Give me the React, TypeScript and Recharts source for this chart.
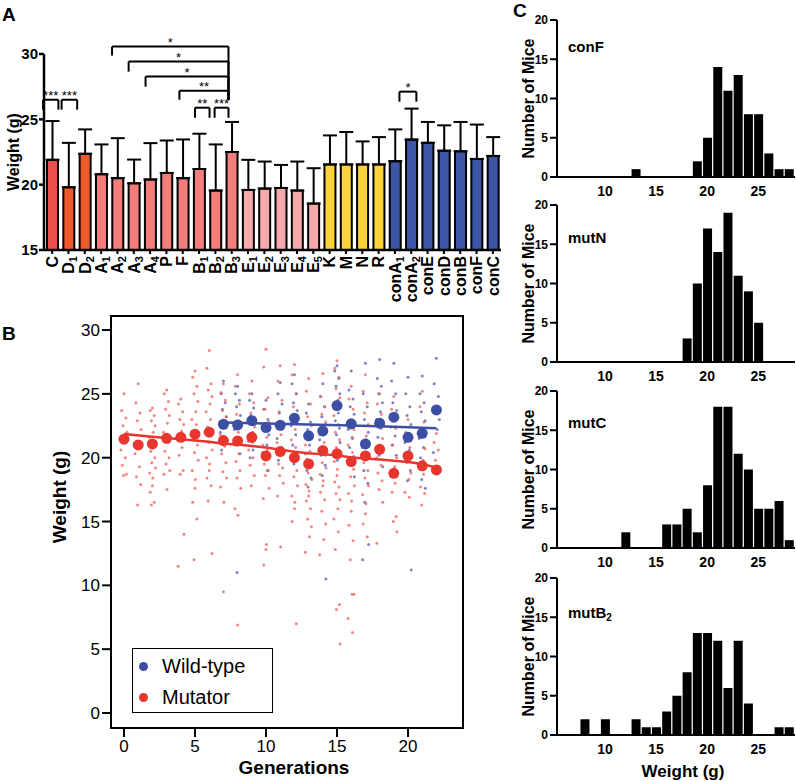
import React from 'react';
import {
  BarChart, Bar, XAxis, YAxis, Cell, ErrorBar, ReferenceLine, ReferenceDot,
  ScatterChart, Scatter, ReferenceArea, Legend,
} from 'recharts';

const FONT = '"Liberation Sans", Arial, Helvetica, sans-serif';

// ---------------- Panel A data ----------------
const strains = ['C', 'D1', 'D2', 'A1', 'A2', 'A3', 'A4', 'P', 'F', 'B1', 'B2', 'B3', 'E1', 'E2', 'E3', 'E4', 'E5', 'K', 'M', 'N', 'R', 'conA1', 'conA2', 'conE', 'conD', 'conB', 'conF', 'conC'];
const meanWeights = [21.9, 19.8, 22.36, 20.8, 20.5, 20.1, 20.4, 20.9, 20.5, 21.2, 19.55, 22.5, 19.6, 19.7, 19.75, 19.55, 18.55, 21.55, 21.55, 21.55, 21.55, 21.8, 23.45, 23.2, 22.6, 22.55, 21.97, 22.2];
const upperWeights = [24.87, 23.2, 24.23, 23.08, 23.56, 21.92, 23.18, 23.38, 23.46, 23.9, 23.08, 24.8, 21.9, 21.77, 21.51, 21.77, 21.26, 23.77, 24.03, 23.31, 23.64, 24.23, 25.82, 24.8, 24.54, 24.8, 24.6, 23.64];
const strainGroups = ['C', 'D', 'D', 'A', 'A', 'A', 'A', 'A', 'A', 'A', 'A', 'A', 'E', 'E', 'E', 'E', 'E', 'Y', 'Y', 'Y', 'Y', 'W', 'W', 'W', 'W', 'W', 'W', 'W'];
const groupColors: Record<string, string> = {
  C: '#ec4f4c', D: '#ee5a2c', A: '#f27d7b', E: '#f6a9ab', Y: '#fdd339', W: '#3d55a5',
};
// significance brackets (x in category index units, y in grams)
const sigBrackets = [
  { x1: -0.06, x2: 0.85, y: 26.5, l1: 25.74, l2: 25.74, stars: '***' },
  { x1: 1.04, x2: 1.96, y: 26.5, l1: 25.74, l2: 25.74, stars: '***' },
  { x1: 4.02, x2: 10.9, y: 30.57, l1: 29.88, l2: 26.5, stars: '*' },
  { x1: 5.0, x2: 10.9, y: 29.42, l1: 28.65, l2: 26.5, stars: '*' },
  { x1: 6.0, x2: 10.9, y: 28.27, l1: 27.5, l2: 26.5, stars: '*' },
  { x1: 8.0, x2: 10.9, y: 27.19, l1: 26.5, l2: 26.5, stars: '**' },
  { x1: 8.92, x2: 9.78, y: 25.89, l1: 25.12, l2: 25.12, stars: '**' },
  { x1: 10.08, x2: 10.9, y: 25.89, l1: 25.12, l2: 25.12, stars: '***' },
  { x1: 21.0, x2: 22.0, y: 27.12, l1: 26.35, l2: 26.35, stars: '*' },
];

// ---------------- Panel B data ----------------
const mutatorGenerations = [0, 1, 2, 3, 4, 5, 6, 7, 8, 9, 10, 11, 12, 13, 14, 15, 16, 17, 18, 19, 20, 21, 22];
const mutatorMeans = [21.45, 21.0, 21.08, 21.52, 21.6, 21.84, 22.0, 21.34, 21.31, 21.6, 20.14, 20.48, 20.0, 19.51, 20.56, 20.3, 19.7, 20.14, 20.66, 18.78, 20.14, 19.36, 19.04];
const wildTypeGenerations = [7, 8, 9, 10, 11, 12, 13, 14, 15, 16, 17, 18, 19, 20, 21, 22];
const wildTypeMeans = [22.62, 22.57, 22.9, 22.36, 22.54, 23.09, 21.71, 22.1, 24.08, 22.65, 21.08, 22.7, 23.17, 21.6, 21.91, 23.74];
const mutatorFitX = [0, 2, 4, 6, 7, 8, 10, 12, 13, 14, 15, 16, 18, 20, 21, 22];
const mutatorFitY = [21.85, 21.65, 21.45, 21.25, 21.1, 21.04, 20.8, 20.47, 20.34, 20.26, 20.2, 20.02, 19.86, 19.66, 19.5, 19.22];
const wildTypeFitX = [7, 10, 13, 16, 19, 22];
const wildTypeFitY = [22.75, 22.68, 22.6, 22.53, 22.42, 22.3];

const mutatorMice: number[][] = [
  [25.0, 23.7, 23.1, 22.5, 22.0, 21.4, 20.6, 20.0, 19.4, 18.7, 18.6],
  [25.8, 24.3, 23.5, 22.9, 22.2, 20.9, 20.3, 19.3, 18.5, 17.9, 16.3],
  [23.9, 23.7, 23.3, 22.9, 22.5, 22.0, 21.6, 20.9, 20.5, 20.0, 19.6, 19.2, 18.8, 18.4, 17.8, 17.3, 16.5, 16.3],
  [25.3, 25.0, 24.4, 23.8, 23.3, 22.7, 22.0, 21.2, 20.5, 20.0, 19.5, 19.0, 18.7, 17.5],
  [24.6, 24.2, 23.6, 23.0, 22.6, 22.1, 21.4, 20.8, 20.2, 19.0, 18.7, 14.0, 11.5],
  [26.8, 26.3, 25.6, 25.0, 24.4, 23.6, 23.0, 22.6, 21.4, 21.0, 20.4, 19.8, 19.0, 18.3, 17.6, 16.5, 15.2, 12.0],
  [28.4, 27.0, 25.8, 25.3, 24.8, 24.2, 23.6, 23.0, 22.4, 21.8, 21.2, 20.6, 20.0, 19.5, 19.0, 18.4, 17.8, 16.6, 12.5],
  [25.8, 25.1, 24.5, 23.7, 23.2, 22.4, 21.8, 20.9, 20.3, 19.6, 18.9, 18.4, 17.7, 16.5, 9.5],
  [26.5, 25.6, 24.2, 23.4, 22.8, 22.0, 21.0, 20.3, 19.7, 19.0, 18.4, 17.6, 16.0, 15.5, 6.9],
  [26.0, 25.0, 24.3, 23.5, 22.4, 21.2, 20.6, 20.0, 19.4, 18.6, 17.8],
  [28.5, 27.1, 24.7, 23.8, 22.8, 21.6, 21.0, 20.6, 19.5, 19.0, 18.6, 17.6, 16.8, 13.2, 12.8, 11.6],
  [27.2, 26.0, 24.5, 23.6, 22.4, 21.8, 21.2, 20.4, 19.5, 19.2, 18.6, 18.0, 17.0, 13.0],
  [27.3, 26.5, 25.0, 24.0, 23.0, 22.2, 21.4, 20.8, 19.8, 19.0, 18.5, 17.8, 17.0, 16.5, 16.0, 15.0, 7.0],
  [26.2, 25.2, 24.2, 23.2, 22.5, 21.6, 21.0, 20.5, 19.9, 19.3, 18.8, 18.3, 17.9, 17.4, 17.0, 16.6, 16.0, 15.2, 14.6, 13.8, 12.6],
  [26.6, 24.8, 24.0, 23.4, 22.8, 22.3, 21.8, 21.2, 20.8, 20.2, 19.6, 19.2, 18.7, 18.2, 17.8, 17.3, 16.7, 15.8, 14.8, 13.6, 12.4],
  [27.6, 27.0, 26.3, 25.4, 24.7, 24.0, 23.3, 22.6, 22.0, 21.4, 20.8, 20.2, 19.7, 19.1, 18.6, 18.1, 17.7, 17.2, 16.7, 16.0, 15.2, 14.2, 12.8, 8.5, 8.1, 5.4],
  [25.6, 24.6, 23.8, 22.9, 22.2, 21.6, 21.0, 20.4, 19.8, 19.1, 18.5, 17.8, 17.2, 16.6, 15.8, 14.7, 13.5, 12.0, 9.3, 9.3, 7.4, 6.3],
  [26.5, 25.2, 24.3, 23.5, 22.6, 21.7, 21.0, 20.4, 19.6, 19.0, 18.4, 17.8, 17.1, 16.4, 15.6, 14.8, 13.8],
  [25.0, 24.2, 23.4, 22.4, 21.5, 20.9, 20.0, 19.4, 18.8, 18.2, 17.5, 16.5, 13.3],
  [24.8, 23.8, 22.3, 21.0, 20.0, 19.3, 18.6, 18.0, 17.3, 15.4, 15.0, 14.2],
  [23.0, 22.0, 20.8, 19.6, 18.8, 18.3, 17.3, 16.9],
  [25.2, 24.0, 22.8, 21.6, 20.7, 19.8, 19.2, 18.7, 17.7, 17.2, 16.3],
  [21.9, 21.2, 20.6, 19.8, 19.3, 18.8],
];
const wildTypeMice: number[][] = [
  [26.0, 25.0, 24.3, 23.8, 23.2, 22.6, 22.0, 21.2, 20.6],
  [25.6, 25.0, 24.5, 24.0, 23.3, 22.9, 22.2, 21.6, 21.0, 20.3, 11.0],
  [25.0, 24.5, 23.9, 23.3, 22.6, 22.0, 21.3, 20.6, 20.0],
  [24.5, 23.8, 23.0, 22.4, 21.8, 21.0, 20.4, 19.0],
  [25.9, 25.0, 24.2, 23.5, 22.8, 22.2, 21.5, 20.8, 19.8],
  [26.5, 25.8, 25.0, 24.3, 23.7, 23.1, 22.5, 21.8, 21.0, 20.3, 19.5],
  [24.2, 23.5, 22.8, 22.2, 21.6, 21.0, 20.3, 19.7, 19.0, 18.4, 17.7],
  [25.8, 24.8, 24.0, 23.2, 22.6, 22.0, 21.4, 20.8, 20.2, 19.4, 18.6, 10.5],
  [27.2, 26.8, 26.2, 25.6, 25.0, 24.5, 24.0, 23.5, 22.9, 22.3, 21.8, 21.2, 20.5, 19.8],
  [26.8, 25.3, 24.6, 24.0, 23.4, 22.8, 22.2, 21.5, 20.8, 20.1, 19.4, 18.5],
  [27.4, 25.0, 24.0, 23.0, 22.0, 21.4, 20.8, 20.0, 19.0, 18.0, 16.5, 13.2, 12.0],
  [27.7, 26.2, 25.6, 25.0, 24.3, 23.6, 23.0, 22.3, 21.6, 20.9, 20.2, 19.3],
  [27.4, 26.0, 25.0, 24.3, 23.7, 23.0, 22.4, 21.7, 21.0, 20.2, 19.0],
  [26.3, 25.0, 24.0, 23.3, 22.6, 21.9, 21.2, 20.6, 19.8, 19.0, 18.2, 11.2],
  [26.4, 25.0, 24.3, 23.6, 22.9, 22.2, 21.5, 20.8, 20.0, 19.2, 18.3, 17.6],
  [27.8, 25.8, 24.8, 24.0, 23.0, 22.2, 20.4],
];
const legendItems = [
  { name: 'Wild-type', color: '#3c4fa3' },
  { name: 'Mutator', color: '#e8352e' },
];

// ---------------- Panel C data ----------------
const conFBins = [13, 19, 20, 21, 22, 23, 24, 25, 26, 27, 28];
const conFCounts = [1, 2, 5, 14, 11, 13, 8, 8, 3, 1, 1];
const mutNBins = [18, 19, 20, 21, 22, 23, 24, 25];
const mutNCounts = [3, 10, 17, 14, 19, 11, 9, 5];
const mutCBins = [12, 16, 17, 18, 19, 20, 21, 22, 23, 24, 25, 26, 27, 28];
const mutCCounts = [2, 3, 3, 5, 2, 8, 18, 18, 12, 10, 5, 5, 6, 1];
const mutB2Bins = [8, 10, 13, 14, 15, 16, 17, 18, 19, 20, 21, 22, 23, 24, 27, 28];
const mutB2Counts = [2, 2, 2, 1, 1, 3, 5, 8, 13, 13, 12, 6, 12, 4, 1, 1];

// ---------------- style constants ----------------
const RED = '#e8352e';
const BLUE = '#3c4fa3';
const RED_DOT = '#ef5e5a';
const BLUE_DOT = '#4f5cb0';
const JITTER = [0, -0.16, 0.13, -0.07, 0.2, 0.06, -0.22, 0.09, -0.12, 0.17, -0.04, 0.22, -0.19, 0.03];

const splitSub = (s: string): [string, string] => {
  const m = s.match(/^(.*?)(\d)$/);
  return m ? [m[1], m[2]] : [s, ''];
};

const CatTick = (props: any) => {
  const { x, y, payload } = props;
  const [base, sub] = splitSub(String(payload.value));
  return (
    <g transform={`translate(${x},${y})`}>
      <text transform="rotate(-90)" x={0} y={0} dy="0.36em" textAnchor="end"
        fontSize={16} fontWeight="bold" fill="#000" fontFamily={FONT}>
        {base}
        {sub ? <tspan fontSize={11} dy={3}>{sub}</tspan> : null}
      </text>
    </g>
  );
};

const barData = strains.map((s, i) => ({
  name: s,
  mean: meanWeights[i],
  err: [0, +(upperWeights[i] - meanWeights[i]).toFixed(2)],
  group: strainGroups[i],
}));

function PanelA() {
  const LINE = { stroke: '#000', strokeWidth: 2 };
  return (
    <div style={{ position: 'absolute', left: 0, top: 0 }}>
      <BarChart width={510} height={320} data={barData} barSize={11}
        margin={{ top: 54, right: 9, bottom: 0, left: 0 }}>
        <XAxis dataKey="name" interval={0} height={70} tickSize={4} tickMargin={2}
          axisLine={{ stroke: '#000', strokeWidth: 2.5 }} tickLine={{ stroke: '#000', strokeWidth: 2 }}
          tick={(p: any) => <CatTick {...p} />} />
        <XAxis xAxisId="idx" type="number" domain={[-0.5, 27.5]} hide />
        <YAxis domain={[15, 30]} ticks={[15, 20, 25, 30]} width={44} tickSize={5} tickMargin={1}
          axisLine={{ stroke: '#000', strokeWidth: 2.5 }} tickLine={{ stroke: '#000', strokeWidth: 2.5 }}
          tick={{ fontSize: 15, fontWeight: 'bold', fill: '#000', fontFamily: FONT }}
          label={{ value: 'Weight (g)', angle: -90, position: 'insideLeft', offset: 13,
            style: { textAnchor: 'middle', fontSize: 16, fontWeight: 'bold', fill: '#000', fontFamily: FONT } }} />
        <Bar dataKey="mean" stroke="#000" strokeWidth={2} isAnimationActive={false}>
          {barData.map((d) => <Cell key={d.name} fill={groupColors[d.group]} />)}
          <ErrorBar dataKey="err" width={7} stroke="#000" strokeWidth={2} direction="y" />
        </Bar>
        {sigBrackets.flatMap((b, k) => [
          <ReferenceLine key={`h${k}`} xAxisId="idx" ifOverflow="visible" {...LINE}
            segment={[{ x: b.x1, y: b.y }, { x: b.x2, y: b.y }]} />,
          <ReferenceLine key={`l${k}`} xAxisId="idx" ifOverflow="visible" {...LINE}
            segment={[{ x: b.x1, y: b.y }, { x: b.x1, y: b.l1 }]} />,
          <ReferenceLine key={`r${k}`} xAxisId="idx" ifOverflow="visible" {...LINE}
            segment={[{ x: b.x2, y: b.y }, { x: b.x2, y: b.l2 }]} />,
          <ReferenceDot key={`s${k}`} xAxisId="idx" ifOverflow="visible" r={0} fill="none" stroke="none"
            x={(b.x1 + b.x2) / 2} y={b.y + 0.3}
            label={{ value: b.stars, position: 'center', fontSize: 13, fill: '#000', fontFamily: FONT }} />,
        ])}
      </BarChart>
    </div>
  );
}

const toPoints = (cols: number[][], gens: number[]) =>
  cols.flatMap((vals, gi) => vals.map((v, i) => ({ x: gens[gi] + JITTER[i % JITTER.length], y: v })));

const mutatorPoints = toPoints(mutatorMice, mutatorGenerations);
const wildTypePoints = toPoints(wildTypeMice, wildTypeGenerations);
const mutatorMeanPts = mutatorGenerations.map((g, i) => ({ x: g, y: mutatorMeans[i] }));
const wildTypeMeanPts = wildTypeGenerations.map((g, i) => ({ x: g, y: wildTypeMeans[i] }));
const mutatorFit = mutatorFitX.map((x, i) => ({ x, y: mutatorFitY[i] }));
const wildTypeFit = wildTypeFitX.map((x, i) => ({ x, y: wildTypeFitY[i] }));

const renderLegend = () => (
  <div style={{ width: 141, height: 65, border: '1.5px solid #000', boxSizing: 'border-box', background: '#fff',
    position: 'relative', fontFamily: FONT, fontSize: 20, color: '#000' }}>
    {legendItems.map((it, i) => (
      <div key={it.name} style={{ position: 'absolute', left: 6, top: 5 + i * 31, height: 24,
        display: 'flex', alignItems: 'center', whiteSpace: 'nowrap' }}>
        <span style={{ width: 9, height: 9, borderRadius: '50%', background: it.color, display: 'inline-block', marginRight: 14 }} />
        <span>{it.name}</span>
      </div>
    ))}
  </div>
);

function PanelB() {
  const X0 = -0.915, X1 = 23.87, Y0 = -1.175, Y1 = 31.1;
  const small = (c: string) => (p: any) => <circle cx={p.cx} cy={p.cy} r={1.5} fill={c} fillOpacity={0.75} />;
  const big = (c: string) => (p: any) => <circle cx={p.cx} cy={p.cy} r={5.5} fill={c} />;
  const none = () => <g />;
  return (
    <div style={{ position: 'absolute', left: 0, top: 300 }}>
      <ScatterChart width={475} height={481} margin={{ top: 16, right: 12, bottom: 0, left: 0 }}>
        <XAxis type="number" dataKey="x" domain={[X0, X1]} ticks={[0, 5, 10, 15, 20]} allowDataOverflow
          height={53} tickSize={9} tickMargin={3}
          axisLine={{ stroke: '#000', strokeWidth: 2 }} tickLine={{ stroke: '#000', strokeWidth: 2 }}
          tick={{ fontSize: 17, fill: '#000', fontFamily: FONT }} />
        <YAxis type="number" dataKey="y" domain={[Y0, Y1]} ticks={[0, 5, 10, 15, 20, 25, 30]} allowDataOverflow
          width={111} tickSize={9} tickMargin={2}
          axisLine={{ stroke: '#000', strokeWidth: 2 }} tickLine={{ stroke: '#000', strokeWidth: 2 }}
          tick={{ fontSize: 17, fill: '#000', fontFamily: FONT }} />
        <ReferenceArea x1={X0} x2={X1} y1={Y0} y2={Y1} fill="none" stroke="#000" strokeWidth={2} ifOverflow="visible" />
        <Scatter name="wt-mice" data={wildTypePoints} shape={small(BLUE_DOT)} isAnimationActive={false} legendType="none" />
        <Scatter name="mut-mice" data={mutatorPoints} shape={small(RED_DOT)} isAnimationActive={false} legendType="none" />
        <Scatter name="wt-fit" data={wildTypeFit} shape={none} line={{ stroke: BLUE, strokeWidth: 2.5 }} isAnimationActive={false} legendType="none" />
        <Scatter name="mut-fit" data={mutatorFit} shape={none} line={{ stroke: RED, strokeWidth: 2.5 }} isAnimationActive={false} legendType="none" />
        <Scatter name="Wild-type" data={wildTypeMeanPts} shape={big(BLUE)} isAnimationActive={false} />
        <Scatter name="Mutator" data={mutatorMeanPts} shape={big(RED)} isAnimationActive={false} />
        <Legend layout="vertical" align="center" verticalAlign="middle" content={renderLegend}
          wrapperStyle={{ left: 132, top: 348, width: 141, height: 65 }} />
        <text x={59} y={197} transform="rotate(-90 59 197)" textAnchor="middle" dy="0.36em"
          fontSize={19} fontWeight="bold" fill="#000" fontFamily={FONT}>Weight (g)</text>
        <text x={294} y={474} textAnchor="middle"
          fontSize={19} fontWeight="bold" fill="#000" fontFamily={FONT}>Generations</text>
      </ScatterChart>
    </div>
  );
}

function Hist(props: { bins: number[]; counts: number[]; title: string; sub?: string; top: number; height: number; titleY: number; xLabel?: string }) {
  const { bins, counts, title, sub, top, height, titleY, xLabel } = props;
  const data = bins.map((w, i) => ({ w, n: counts[i] }));
  return (
    <div style={{ position: 'absolute', left: 460, top }}>
      <BarChart width={336} height={height} data={data} barSize={9}
        margin={{ top: 20, right: 1, bottom: 0, left: 0 }}>
        <XAxis dataKey="w" type="number" domain={[5.3, 28.6]} ticks={[10, 15, 20, 25]} allowDataOverflow
          height={height - 177} tickLine={false} tickSize={6} tickMargin={3}
          axisLine={{ stroke: '#000', strokeWidth: 2 }}
          tick={{ fontSize: 14, fontWeight: 'bold', fill: '#000', fontFamily: FONT }}
          label={xLabel ? { value: xLabel, position: 'insideBottom', offset: 4, dx: 7,
            style: { fontSize: 17, fontWeight: 'bold', fill: '#000', fontFamily: FONT } } : undefined} />
        <YAxis type="number" domain={[0, 20]} ticks={[0, 5, 10, 15, 20]} width={97} tickSize={7} tickMargin={2}
          axisLine={{ stroke: '#000', strokeWidth: 2 }} tickLine={{ stroke: '#000', strokeWidth: 2 }}
          tick={{ fontSize: 12, fontWeight: 'bold', fill: '#000', fontFamily: FONT }}
          label={{ value: 'Number of Mice', angle: -90, position: 'insideLeft', offset: 68,
            style: { textAnchor: 'middle', fontSize: 16, fontWeight: 'bold', fill: '#000', fontFamily: FONT } }} />
        <Bar dataKey="n" fill="#000" isAnimationActive={false} />
        <text x={108} y={titleY} fontSize={15} fontWeight="bold" fill="#000" fontFamily={FONT}>
          {title}
          {sub ? <tspan fontSize={10} dy={3}>{sub}</tspan> : null}
        </text>
      </BarChart>
    </div>
  );
}

const panelLabel = (t: string, left: number, top: number) => (
  <div style={{ position: 'absolute', left, top, fontFamily: FONT, fontWeight: 'bold', fontSize: 19, lineHeight: '19px', color: '#000' }}>{t}</div>
);

export default function App() {
  return (
    <div style={{ position: 'absolute', left: 0, top: 0, width: 796, height: 781, background: '#fff', overflow: 'hidden' }}>
      <PanelA />
      <PanelB />
      <Hist bins={conFBins} counts={conFCounts} title="conF" top={0} height={200} titleY={52} />
      <Hist bins={mutNBins} counts={mutNCounts} title="mutN" top={185} height={200} titleY={58} />
      <Hist bins={mutCBins} counts={mutCCounts} title="mutC" top={371} height={200} titleY={57} />
      <Hist bins={mutB2Bins} counts={mutB2Counts} title="mutB" sub="2" top={558} height={223} titleY={60} xLabel="Weight (g)" />
      {panelLabel('A', 2, 5)}
      {panelLabel('B', 2, 324)}
      {panelLabel('C', 513, 1)}
    </div>
  );
}
